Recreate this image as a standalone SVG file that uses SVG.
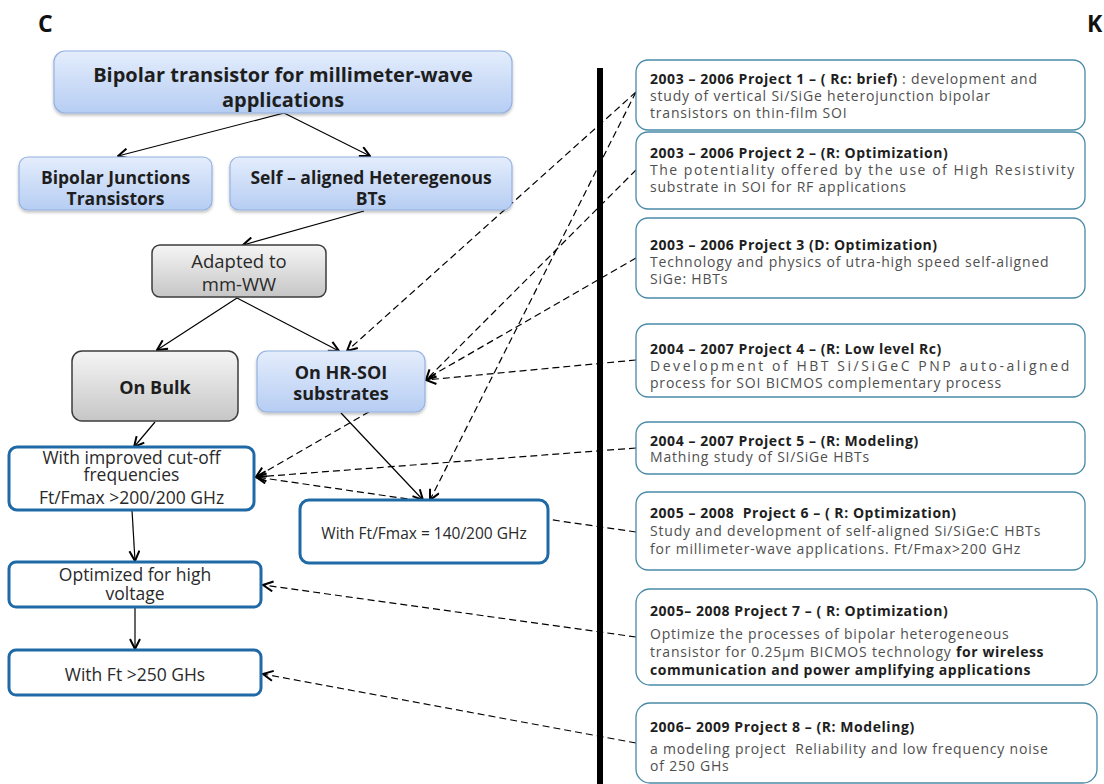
<svg xmlns="http://www.w3.org/2000/svg" width="1104" height="784" viewBox="0 0 1104 784">
<defs>
<linearGradient id="gBlue" x1="0" y1="0" x2="0" y2="1"><stop offset="0" stop-color="#e4edfc"/><stop offset="1" stop-color="#b6cdf3"/></linearGradient>
<linearGradient id="gGray" x1="0" y1="0" x2="0" y2="1"><stop offset="0" stop-color="#f5f5f5"/><stop offset="1" stop-color="#c6c6c6"/></linearGradient>
<filter id="sh" x="-10%" y="-10%" width="120%" height="130%"><feDropShadow dx="0" dy="2" stdDeviation="1.5" flood-color="#000" flood-opacity="0.25"/></filter>
<marker id="ah" viewBox="0 0 12 12" refX="11" refY="6" markerWidth="12" markerHeight="12" markerUnits="userSpaceOnUse" orient="auto"><path d="M1,1 L11,6 L1,11" fill="none" stroke="#000" stroke-width="2"/></marker>
<style>
.bl{fill:url(#gBlue);stroke:#94b2e0;stroke-width:1.2;filter:url(#sh)}
.gr{fill:url(#gGray);stroke:#3c3c3c;stroke-width:1.5}
.ob{fill:#fff;stroke:#1f6aa6;stroke-width:3}
.pb{fill:#fff;stroke:#4a8aa6;stroke-width:1.3}
.tb{font-family:"Open Sans",sans-serif;font-weight:bold;fill:#1e1e1e;text-anchor:middle}
.tn{font-family:"Open Sans",sans-serif;fill:#2a2a2a;text-anchor:middle}
.pt{font-family:"Open Sans",sans-serif;font-size:14px;fill:#4f4f4f;letter-spacing:0.8px}
.pt .b{font-weight:bold;fill:#1e1e1e;letter-spacing:0.55px}
.sl{fill:none;stroke:#000;stroke-width:1.2;marker-end:url(#ah)}
.dl{fill:none;stroke:#000;stroke-width:1.2;stroke-dasharray:7,4;marker-end:url(#ah)}
.lbl{font-family:"Open Sans",sans-serif;font-weight:bold;font-size:23px;fill:#111}
</style>
</defs>
<rect width="1104" height="784" fill="#fff"/>
<text class="lbl" x="38" y="32">C</text>
<text class="lbl" x="1087" y="32">K</text>
<rect x="597" y="68" width="6" height="716" fill="#000"/>

<g id="connectors">
<path class="sl" d="M284,113 L118,156"/>
<path class="sl" d="M284,113 L370,156"/>
<path class="sl" d="M364,211 L243,245"/>
<path class="sl" d="M237,298 L157,350"/>
<path class="sl" d="M237,298 L339,351"/>
<path class="sl" d="M155,422 L134,447"/>
<path class="sl" d="M341,413 L423,500"/>
<path class="sl" d="M132,510 L135,561"/>
<path class="sl" d="M135,607 L135,649"/>
<path class="dl" d="M636,92 L347,351"/>
<path class="dl" d="M636,92 L430,500"/>
<path class="dl" d="M636,170 L426,380"/>
<path class="dl" d="M636,258 L256,477"/>
<path class="dl" d="M636,360 L426,380"/>
<path class="dl" d="M636,448 L256,477"/>
<path class="dl" d="M636,532 L256,477"/>
<path class="dl" d="M636,637 L263,585"/>
<path class="dl" d="M636,743 L263,674"/>
</g>

<g id="n-main"><rect class="bl" x="54" y="51" width="458" height="62" rx="11"/>
<text class="tb" font-size="20" x="283" y="82">Bipolar transistor for millimeter-wave</text>
<text class="tb" font-size="20" x="283" y="107">applications</text></g>

<g id="n-bjt"><rect class="bl" x="19" y="157" width="193" height="53" rx="9"/>
<text class="tb" font-size="17.5" x="115.5" y="184">Bipolar Junctions</text>
<text class="tb" font-size="17.5" x="115.5" y="205">Transistors</text></g>

<g id="n-sahbt"><rect class="bl" x="230" y="157" width="282" height="53" rx="9"/>
<text class="tb" font-size="17.5" x="371" y="184">Self – aligned Heteregenous</text>
<text class="tb" font-size="17.5" x="371" y="205">BTs</text></g>

<g id="n-adapted"><rect class="gr" x="152" y="245" width="174" height="52" rx="8"/>
<text class="tn" font-size="18.5" x="239" y="268">Adapted to</text>
<text class="tn" font-size="18.5" x="239" y="291">mm-WW</text></g>

<g id="n-bulk"><rect class="gr" x="72" y="351" width="166" height="70" rx="10"/>
<text class="tb" font-size="18" x="155" y="394">On Bulk</text></g>

<g id="n-hrsoi"><rect class="bl" x="257" y="351" width="168" height="61" rx="10"/>
<text class="tb" font-size="18" x="341" y="379">On HR-SOI</text>
<text class="tb" font-size="18" x="341" y="400">substrates</text></g>

<g id="n-improved"><rect class="ob" x="9" y="447" width="245" height="63" rx="8"/>
<text class="tn" font-size="17.5" x="131.5" y="464">With improved cut-off</text>
<text class="tn" font-size="17.5" x="131.5" y="481">frequencies</text>
<text class="tn" font-size="17.5" x="131.5" y="504">Ft/Fmax &gt;200/200 GHz</text></g>

<g id="n-140"><rect class="ob" x="300" y="500" width="248" height="63" rx="9"/>
<text class="tn" font-size="15.5" x="424" y="539">With Ft/Fmax = 140/200 GHz</text></g>

<g id="n-hv"><rect class="ob" x="9" y="562" width="252" height="45" rx="7"/>
<text class="tn" font-size="17.5" x="135" y="581">Optimized for high</text>
<text class="tn" font-size="17.5" x="135" y="600">voltage</text></g>

<g id="n-250"><rect class="ob" x="9" y="650" width="252" height="45" rx="7"/>
<text class="tn" font-size="17.5" x="135" y="681">With Ft &gt;250 GHs</text></g>

<g id="p1"><rect class="pb" x="636" y="60" width="449" height="70" rx="12"/>
<text class="pt" x="650" y="84"><tspan class="b">2003 – 2006 Project 1 – ( Rc: brief)</tspan> : development and</text>
<text class="pt" x="650" y="101">study of vertical Si/SiGe heterojunction bipolar</text>
<text class="pt" x="650" y="118">transistors on thin-film SOI</text></g>

<g id="p2"><rect class="pb" x="636" y="132" width="449" height="77" rx="12"/>
<text class="pt" x="650" y="158"><tspan class="b">2003 – 2006 Project 2 – (R: Optimization)</tspan></text>
<text class="pt" x="650" y="175" textLength="425" lengthAdjust="spacing">The potentiality offered by the use of High Resistivity</text>
<text class="pt" x="650" y="192">substrate in SOI for RF applications</text></g>

<g id="p3"><rect class="pb" x="636" y="218" width="449" height="80" rx="12"/>
<text class="pt" x="650" y="250"><tspan class="b">2003 – 2006 Project 3 (D: Optimization)</tspan></text>
<text class="pt" x="650" y="267">Technology and physics of utra-high speed self-aligned</text>
<text class="pt" x="650" y="284">SiGe: HBTs</text></g>

<g id="p4"><rect class="pb" x="636" y="324" width="449" height="73" rx="12"/>
<text class="pt" x="650" y="354"><tspan class="b">2004 – 2007 Project 4 – (R: Low level Rc)</tspan></text>
<text class="pt" x="650" y="371" textLength="420" lengthAdjust="spacing">Development of HBT Si/SiGeC PNP auto-aligned</text>
<text class="pt" x="650" y="388">process for SOI BICMOS complementary process</text></g>

<g id="p5"><rect class="pb" x="636" y="422" width="449" height="52" rx="12"/>
<text class="pt" x="650" y="446"><tspan class="b">2004 – 2007 Project 5 – (R: Modeling)</tspan></text>
<text class="pt" x="650" y="462">Mathing study of SI/SiGe HBTs</text></g>

<g id="p6"><rect class="pb" x="636" y="492" width="449" height="78" rx="12"/>
<text class="pt" x="650" y="518" xml:space="preserve"><tspan class="b">2005 – 2008  Project 6 – ( R: Optimization)</tspan></text>
<text class="pt" x="650" y="536">Study and development of self-aligned Si/SiGe:C HBTs</text>
<text class="pt" x="650" y="554">for millimeter-wave applications. Ft/Fmax&gt;200 GHz</text></g>

<g id="p7"><rect class="pb" x="636" y="589" width="461" height="96" rx="14"/>
<text class="pt" x="650" y="616"><tspan class="b">2005– 2008 Project 7 – ( R: Optimization)</tspan></text>
<text class="pt" x="650" y="639">Optimize the processes of bipolar heterogeneous</text>
<text class="pt" x="650" y="657">transistor for 0.25µm BICMOS technology <tspan class="b">for wireless</tspan></text>
<text class="pt" x="650" y="675"><tspan class="b">communication and power amplifying applications</tspan></text></g>

<g id="p8"><rect class="pb" x="636" y="703" width="461" height="80" rx="14"/>
<text class="pt" x="650" y="732"><tspan class="b">2006– 2009 Project 8 – (R: Modeling)</tspan></text>
<text class="pt" x="650" y="754" xml:space="preserve">a modeling project  Reliability and low frequency noise</text>
<text class="pt" x="650" y="771">of 250 GHs</text></g>
</svg>
